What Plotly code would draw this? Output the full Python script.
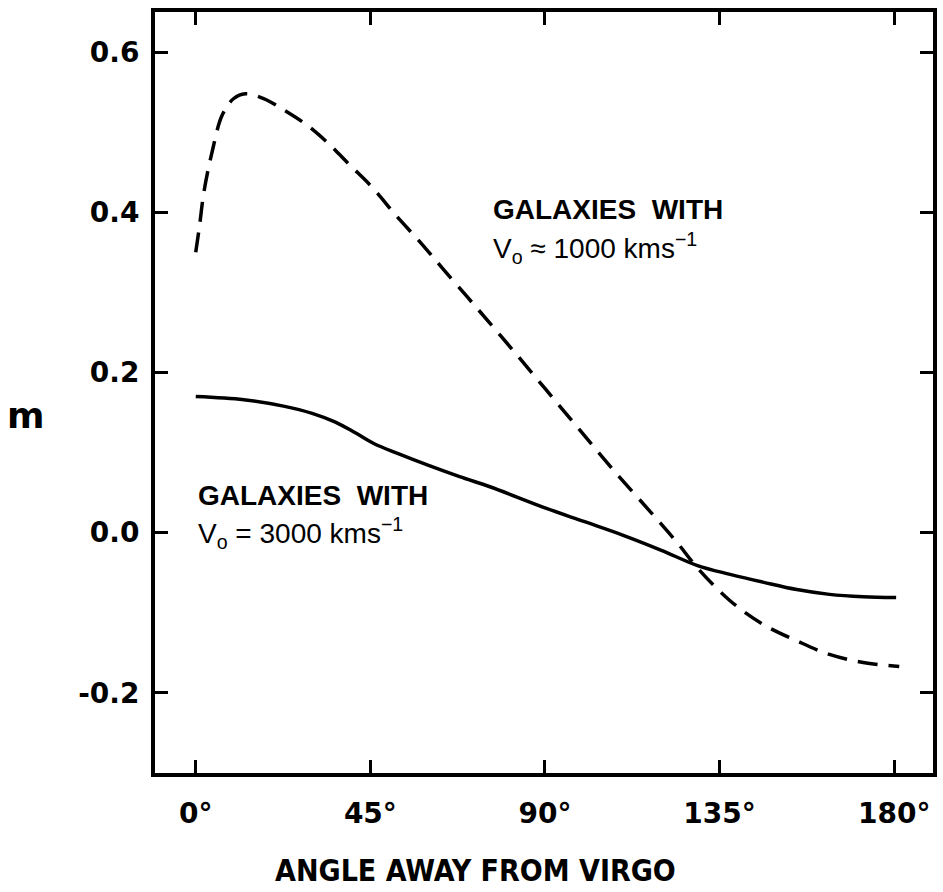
import plotly.graph_objects as go

# Dashed curve: galaxies with V0 ~ 1000 km/s
angle_1000 = [0, 1.0, 2.1, 4.2, 6.8, 9.8, 12.8, 17.5, 22.6, 28.6, 33.7, 39.7, 45.7, 51.6,
              57.6, 63.6, 72, 81, 90, 99, 108, 117, 124, 129.3, 137.7, 146.4, 154.9,
              163.3, 172, 181.3]
m_1000 = [0.35, 0.384, 0.425, 0.475, 0.521, 0.542, 0.548, 0.542, 0.528, 0.509, 0.488,
          0.459, 0.430, 0.396, 0.364, 0.330, 0.283, 0.232, 0.180, 0.128, 0.076, 0.027,
          -0.012, -0.044, -0.085, -0.115, -0.135, -0.152, -0.162, -0.167]

# Solid curve: galaxies with V0 = 3000 km/s
angle_3000 = [0, 12.4, 22.6, 30, 36, 41, 46, 52, 60, 68, 76, 90, 100, 110, 120, 129.3,
              137.7, 146.4, 154.9, 163.3, 172, 180.5]
m_3000 = [0.170, 0.166, 0.158, 0.149, 0.138, 0.125, 0.111, 0.099, 0.084, 0.070, 0.057,
          0.031, 0.014, -0.003, -0.022, -0.041, -0.052, -0.062, -0.071, -0.077, -0.080,
          -0.081]

x_tickvals = [0, 45, 90, 135, 180]
x_ticktext = ["0°", "45°", "90°", "135°", "180°"]
y_tickvals = [-0.2, 0.0, 0.2, 0.4, 0.6]
y_ticktext = ["-0.2", "0.0", "0.2", "0.4", "0.6"]

FONT = "DejaVu Sans"
TXT = "Liberation Sans"
NARROW = "Liberation Sans Narrow, DejaVu Sans Condensed, Liberation Sans"

fig = go.Figure()
fig.add_trace(go.Scatter(x=angle_1000, y=m_1000, mode="lines",
                         line=dict(color="black", width=3.5, dash="20px,11px", shape="spline"),
                         showlegend=False))
fig.add_trace(go.Scatter(x=angle_3000, y=m_3000, mode="lines",
                         line=dict(color="black", width=3.5, shape="spline"),
                         showlegend=False))

axis_common = dict(showline=True, linecolor="black", linewidth=4, mirror="ticks",
                   ticks="inside", ticklen=13, tickwidth=3, tickcolor="black",
                   showgrid=False, zeroline=False,
                   tickfont=dict(family=FONT, size=28, color="black", weight="bold"))

fig.update_xaxes(range=[-10.5, 190], tickvals=x_tickvals, ticktext=x_ticktext,
                 ticklabelstandoff=12, **axis_common)
fig.update_yaxes(range=[-0.3, 0.65], tickvals=y_tickvals, ticktext=y_ticktext,
                 ticklabelstandoff=6, **axis_common)

annots = [
    dict(x=0.412, y=-0.128, xref="paper", yref="paper", xanchor="center", yanchor="middle",
         text="ANGLE AWAY FROM VIRGO", font=dict(family=NARROW, size=30, color="black", weight="bold")),
    dict(x=-0.166, y=0.47, xref="paper", yref="paper", xanchor="center", yanchor="middle",
         text="m", font=dict(family=FONT, size=36, color="black", weight="bold")),
    dict(x=76, y=0.403, xref="x", yref="y", xanchor="left", yanchor="middle",
         text="GALAXIES  WITH", font=dict(family=TXT, size=28, color="black", weight="bold")),
    dict(x=76, y=0.355, xref="x", yref="y", xanchor="left", yanchor="middle",
         text="V<sub>o</sub> ≈ 1000 kms<sup>−1</sup>", font=dict(family=TXT, size=28, color="black")),
    dict(x=0, y=0.047, xref="x", yref="y", xanchor="left", yanchor="middle",
         text="GALAXIES  WITH", font=dict(family=TXT, size=28, color="black", weight="bold")),
    dict(x=0, y=0.0, xref="x", yref="y", xanchor="left", yanchor="middle",
         text="V<sub>o</sub> = 3000 kms<sup>−1</sup>", font=dict(family=TXT, size=28, color="black")),
]
for a in annots:
    a["showarrow"] = False

fig.update_layout(width=943, height=892, margin=dict(l=155, r=6, t=12, b=119),
                  paper_bgcolor="white", plot_bgcolor="white", annotations=annots)

fig.write_html("out.html")
